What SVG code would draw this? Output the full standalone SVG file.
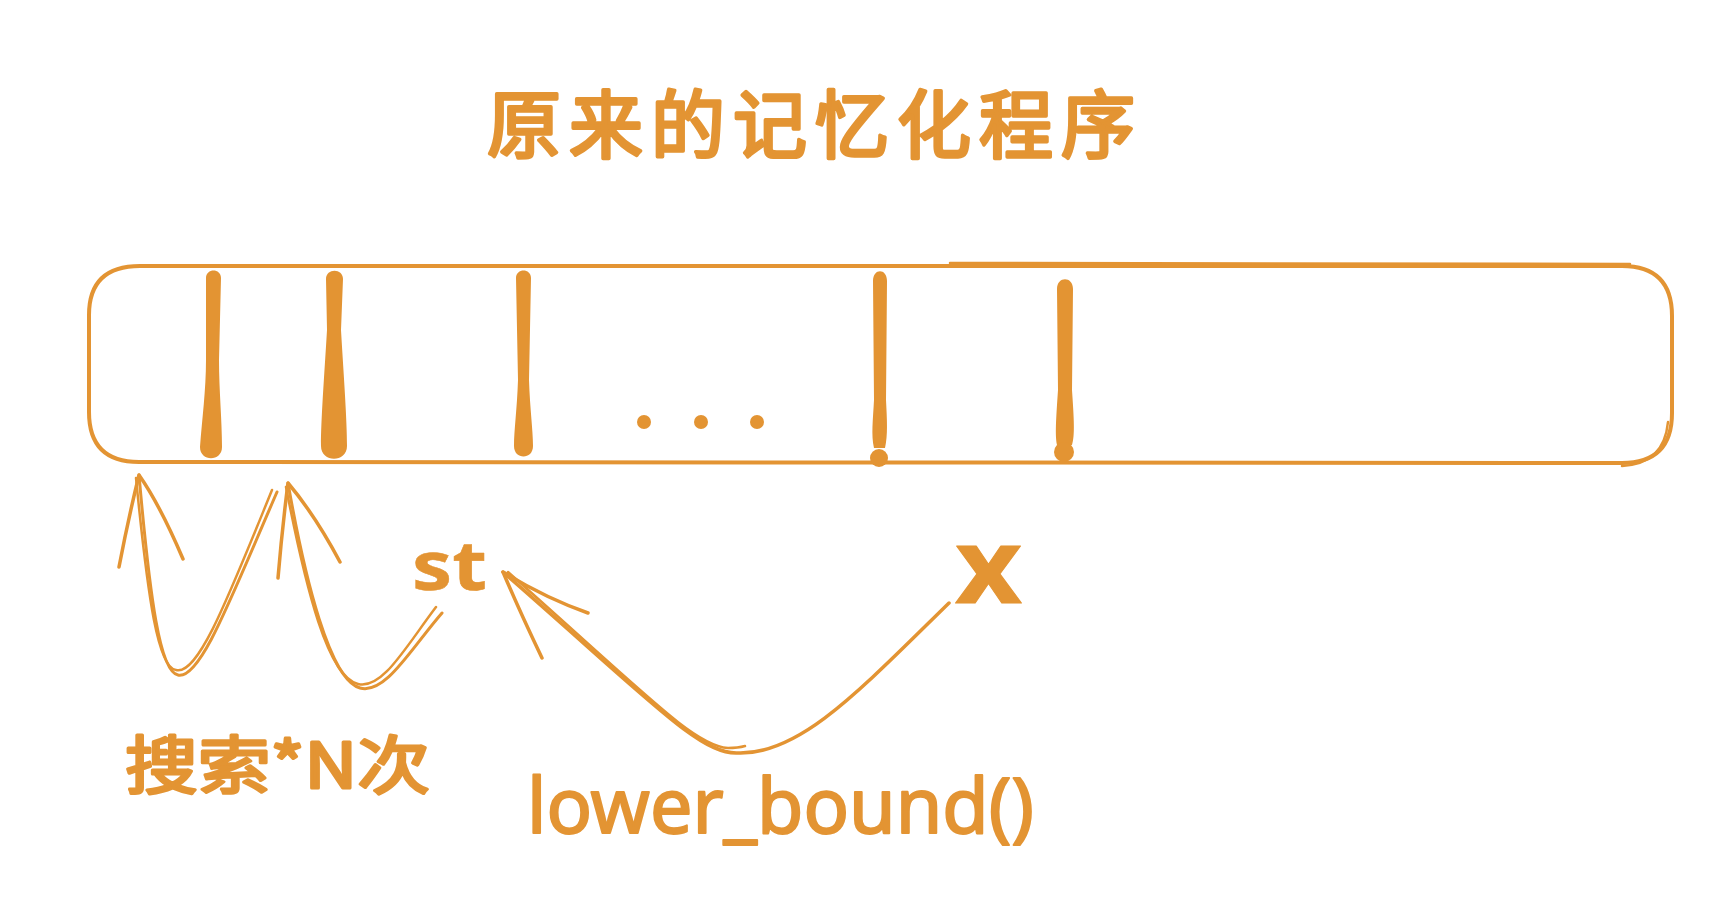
<svg xmlns="http://www.w3.org/2000/svg" width="1734" height="920" viewBox="0 0 1734 920">
<style>
.ln{fill:none;stroke:#e39433;stroke-linecap:round;stroke-linejoin:round}
.f{fill:#e39433}
.t{fill:#e39433;stroke:#e39433;stroke-linejoin:round;stroke-linecap:round}
.cjk{font-family:"Noto Sans CJK SC","Noto Sans",sans-serif}
.lat{font-family:"Noto Sans","Liberation Sans",sans-serif}
</style>
<rect width="1734" height="920" fill="#ffffff"/>
<g id="title">
<text class="t cjk" x="487" y="152" font-size="74" font-weight="400" stroke-width="3.5" letter-spacing="8">原来的记忆化程序</text>
</g>
<g id="array">
<path class="ln" stroke-width="4" d="M140,266 L1622,266 Q1672,266 1672,316 L1672,413 Q1672,463 1622,463 L139,462 Q89,462 89,412 L89,315 Q89,266 140,266 Z"/>
<path class="ln" stroke-width="2.5" d="M950,263 L1630,264 M1622,466 Q1664,464 1668,422"/>
<path class="f" d="M206,278 C206,268 221,268 221,278 L219,360 C219,390 222,420 222,447 C222,462 200,462 200,447 C202,420 206,390 206,360 Z"/>
<path class="f" d="M326,279 C326,268 343,268 343,279 L341,330 C344,380 347,420 347,446 C347,463 321,463 321,446 C321,420 324,380 327,330 Z"/>
<path class="f" d="M516,278 C516,268 531,268 531,278 L529,380 C530,410 533,430 533,446 C533,460 514,460 514,446 C514,430 517,410 518,380 Z"/>
<path class="f" d="M873,281 C873,268 887,268 887,281 L886,400 C887,420 888,435 885,448 L874,448 C871,435 873,420 874,400 Z"/>
<circle class="f" cx="879" cy="458" r="9"/>
<path class="f" d="M1057,289 C1057,276 1073,276 1073,289 L1072,390 C1074,420 1075,435 1072,445 L1057,445 C1055,435 1056,420 1058,390 Z"/>
<circle class="f" cx="1064" cy="452" r="10"/>
<circle class="f" cx="644" cy="422" r="7"/>
<circle class="f" cx="701" cy="422" r="7"/>
<circle class="f" cx="757" cy="422" r="7"/>
</g>
<g id="labels">
<text class="t lat" x="412" y="590" font-size="68" font-weight="bold" stroke-width="0.5" textLength="75" lengthAdjust="spacingAndGlyphs">st</text>
<text class="t lat" x="955" y="603" font-size="104" font-weight="bold" stroke-width="1" textLength="67" lengthAdjust="spacingAndGlyphs">x</text>
<text class="t cjk" x="125" y="788" font-size="63" font-weight="400" stroke-width="3" textLength="305" lengthAdjust="spacingAndGlyphs">搜索*N次</text>
<text class="t lat" x="527" y="833" font-size="76" stroke-width="2" textLength="507" lengthAdjust="spacingAndGlyphs">lower_bound()</text>
</g>
<g id="connectors">
<path class="ln" stroke-width="3" d="M277,492 C230,600 200,680 178,675 C160,672 150,600 139,475"/>
<path class="ln" stroke-width="2.5" d="M272,490 C228,598 198,676 176,670 C158,668 148,600 136,478"/>
<path class="ln" stroke-width="3.5" d="M119,567 Q128,520 139,475 Q160,505 183,559"/>
<path class="ln" stroke-width="3" d="M442,613 C410,650 385,695 360,688 C330,680 305,580 288,483"/>
<path class="ln" stroke-width="2.5" d="M436,607 C405,648 382,690 358,684 C328,677 306,590 286,487"/>
<path class="ln" stroke-width="3.5" d="M278,578 Q282,530 288,483 Q315,515 340,562"/>
<path class="ln" stroke-width="3.5" d="M949,603 C860,690 800,755 738,753 C700,755 650,700 503,572"/>
<path class="ln" stroke-width="2.5" d="M745,746 C738,748 732,748 728,748 C695,746 650,698 508,572"/>
<path class="ln" stroke-width="3.5" d="M542,658 Q520,612 503,572 Q545,598 588,613"/>
</g>
</svg>
